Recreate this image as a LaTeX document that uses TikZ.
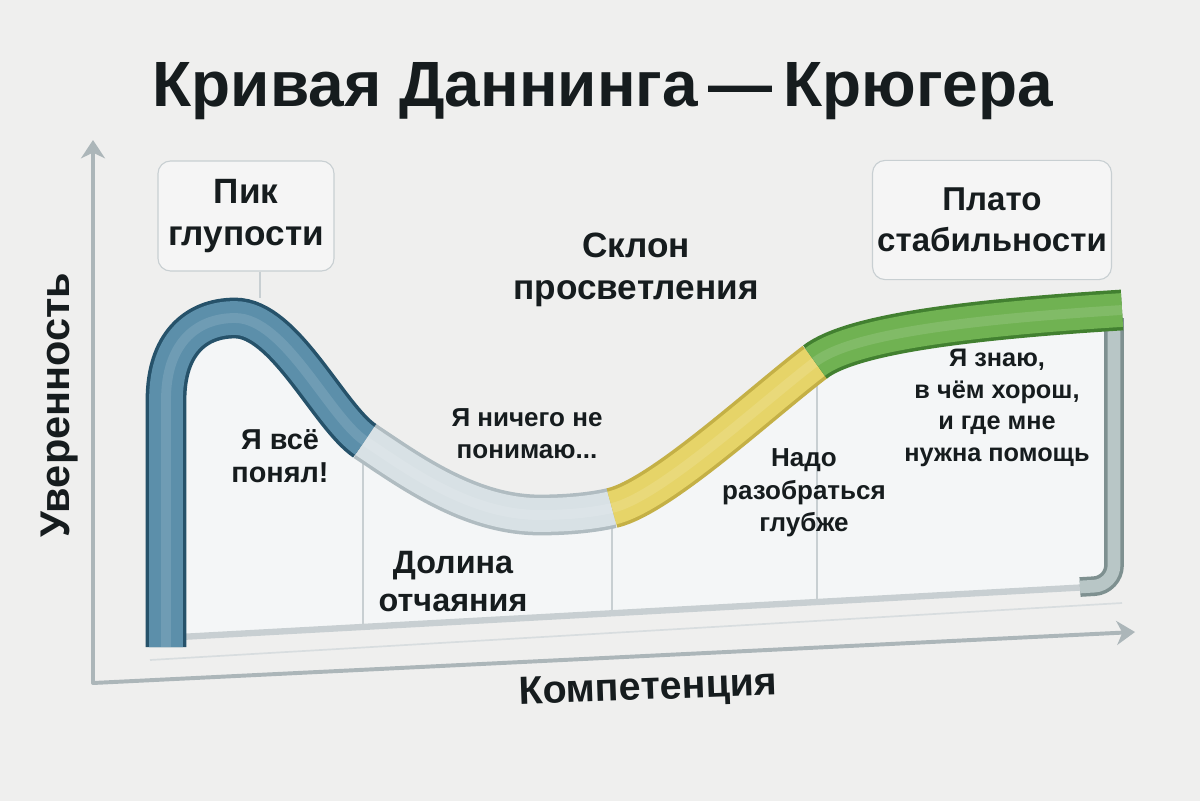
\documentclass[tikz,border=0pt]{standalone}
\usepackage{fontspec}
\setmainfont{Liberation Sans}
\usepackage{tikz}
\usetikzlibrary{arrows.meta}
\definecolor{bgcol}{RGB}{239,239,238}
\definecolor{panelcol}{RGB}{244,246,247}
\definecolor{ink}{RGB}{22,28,30}
\definecolor{axiscol}{RGB}{172,182,185}
\definecolor{rulecol}{RGB}{200,207,210}
\definecolor{blueedge}{RGB}{38,82,106}
\definecolor{bluefill}{RGB}{92,143,170}
\definecolor{grayedge}{RGB}{176,188,193}
\definecolor{grayfill}{RGB}{216,225,229}
\definecolor{yellowedge}{RGB}{196,176,70}
\definecolor{yellowfill}{RGB}{230,212,104}
\definecolor{greenedge}{RGB}{66,128,48}
\definecolor{greenfill}{RGB}{112,178,82}
\definecolor{baredge}{RGB}{126,144,144}
\definecolor{barfill}{RGB}{184,198,198}
\newcommand{\bandpiece}[3]{%
  \draw[line width=29pt, #1] #3;
  \draw[line width=24pt, #2] #3;
  \draw[line width=7pt, white, opacity=0.12] #3;
}
\newcommand{\bluepart}{(166,647) -- (166,400) .. controls (166,345) and (195,318) .. (235,318) .. controls (285,318) and (329,417) .. (365,441)}
\newcommand{\graypart}{(365,441) .. controls (410,471) and (470,515) .. (540,515) .. controls (570,515) and (595,512) .. (612,508)}
\newcommand{\yellowpart}{(612,508) .. controls (660,497) and (760,404) .. (815,362)}
\newcommand{\greenpart}{(815,362) .. controls (850,335) and (960,320) .. (1122,310)}

\begin{document}
\begin{tikzpicture}[x=0.025cm, y=-0.025cm,
    lbl/.style={text=ink, align=center, font=\bfseries\fontsize{25}{30}\selectfont},
    small/.style={lbl, font=\bfseries\fontsize{18.5}{23}\selectfont},
    tag/.style={lbl, draw=rulecol, fill=bgcol!60!white, rounded corners=9pt, line width=0.8pt},
    divider/.style={rulecol, line width=1.1pt},
    axis/.style={axiscol, line width=2.8pt, {Stealth[length=13pt,width=17pt,inset=4pt]}-{Stealth[length=13pt,width=17pt,inset=4pt]}}]
\useasboundingbox (0,0) rectangle (1200,801);
\fill[bgcol] (0,0) rectangle (1200,801);

% Title
\node[lbl, font=\bfseries\fontsize{45.5}{50}\selectfont] (title) at (603,91) {Кривая Даннинга\,—\,Крюгера};

% Axes
\coordinate (origin) at (93,683);
\coordinate (ytip) at (93,140);
\coordinate (xtip) at (1135,632);
\draw[axis, line join=round] (ytip) -- (origin) -- (xtip);
\node[lbl, font=\bfseries\fontsize{29.5}{32}\selectfont, rotate=90] (ylabel) at (60,405) {Уверенность};
\node[lbl, font=\bfseries\fontsize{28}{32}\selectfont, rotate=2] (xlabel) at (648,690) {Компетенция};

% Glass panel under the curve
\fill[panelcol] \bluepart .. controls (410,471) and (470,515) .. (540,515) .. controls (570,515) and (595,512) .. (612,508)
    .. controls (660,497) and (760,404) .. (815,362) .. controls (850,335) and (960,320) .. (1122,310)
    -- (1114,588) -- (166,640) -- cycle;
\draw[rulecol!70!white, line width=1.2pt] (150,660) -- (1122,603);
\draw[rulecol, line width=4.5pt] (180,637) -- (1090,587);
\draw[baredge, line width=14pt, rounded corners=14pt] (1114,318) -- (1114,585) -- (1080,587);
\draw[barfill, line width=9pt, rounded corners=14pt] (1114,318) -- (1114,585) -- (1080,587);

% Dividers
\draw[divider] (363,463) -- (363,626);
\draw[divider] (612,528) -- (612,613);
\draw[divider] (817,382) -- (817,603);

% The curve
\bandpiece{blueedge}{bluefill}{\bluepart}
\bandpiece{grayedge}{grayfill}{\graypart}
\bandpiece{yellowedge}{yellowfill}{\yellowpart}
\bandpiece{greenedge}{greenfill}{\greenpart}

% Stage labels
\node[tag, minimum width=4.4cm, minimum height=2.75cm] (peak) at (246,216) {Пик\\глупости};
\draw[divider] (peak.south -| 260,0) -- (260,298);
\node[tag, minimum width=5.83cm, minimum height=2.98cm, font=\bfseries\fontsize{23.5}{29}\selectfont] (plateau) at (992,220) {Плато\\стабильности};
\node[lbl] (slope) at (636,270) {Склон\\просветления};
\node[lbl, font=\bfseries\fontsize{23}{27}\selectfont] (valley) at (453,582) {Долина\\отчаяния};

% Thoughts
\node[small, font=\bfseries\fontsize{20.5}{23}\selectfont] (gotit) at (280,456) {Я всё\\понял!};
\node[small] (lost) at (527,434) {Я ничего не\\понимаю...};
\node[small] (deeper) at (804,493) {Надо\\разобраться\\глубже};
\node[small, font=\bfseries\fontsize{18}{22.5}\selectfont] (know) at (997,408) {Я знаю,\\в чём хорош,\\и где мне\\нужна помощь};
\end{tikzpicture}
\end{document}
